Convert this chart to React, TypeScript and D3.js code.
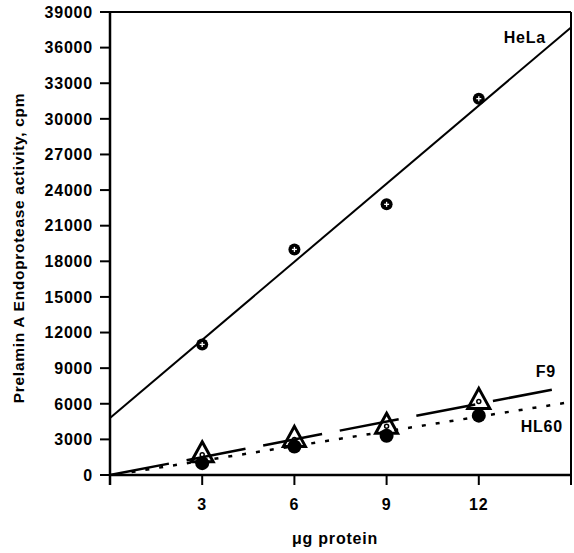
import React from 'react'
import * as d3 from 'd3'

const doses = [3, 6, 9, 12]
const hela = [11000, 19000, 22800, 31700]
const f9 = [1700, 3000, 4100, 6200]
const hl60 = [1000, 2400, 3300, 5000]
// fitted lines: [x0, y0, x1, y1]
const helaFit = [0, 4800, 15, 37700]
const f9Fit = [0, 0, 14.6, 7300]
const hl60Fit = [0.7, 250, 14.8, 6070]
const yTicks = [0, 3000, 6000, 9000, 12000, 15000, 18000, 21000, 24000, 27000, 30000, 33000, 36000, 39000]
const xTicks = [3, 6, 9, 12]

export default function App() {
  const left = 110, right = 571, top = 12, bottom = 475
  const x = d3.scaleLinear().domain([0, 15]).range([left, right])
  const y = d3.scaleLinear().domain([0, 39000]).range([bottom, top])
  const font = 'Arial, "Liberation Sans", sans-serif'

  const fitLine = (f: number[]) =>
    d3.line<number[]>().x(d => x(d[0])).y(d => y(d[1]))([[f[0], f[1]], [f[2], f[3]]]) || ''

  return (
    <svg width={574} height={553} style={{ position: 'absolute', left: 0, top: 0 }}
      fontFamily={font} fontWeight="bold" fontSize={16} letterSpacing={0.8}>
      {/* frame */}
      <line x1={left} x2={right} y1={top} y2={top} stroke="#000" strokeWidth={2} />
      <line x1={right} x2={right} y1={top} y2={bottom + 10} stroke="#000" strokeWidth={2} />
      <line x1={left} x2={left} y1={top} y2={bottom + 10} stroke="#000" strokeWidth={2.5} />
      <line x1={left} x2={right} y1={bottom} y2={bottom} stroke="#000" strokeWidth={2.5} />

      {yTicks.map(t => (
        <g key={t}>
          <line x1={left - 10} x2={left} y1={y(t)} y2={y(t)} stroke="#000" strokeWidth={2} />
          <text x={left - 17} y={y(t)} dy="0.36em" textAnchor="end">{t}</text>
        </g>
      ))}
      {xTicks.map(t => (
        <g key={t}>
          <line x1={x(t)} x2={x(t)} y1={bottom} y2={bottom + 10} stroke="#000" strokeWidth={2} />
          <text x={x(t)} y={bottom + 35} textAnchor="middle">{t}</text>
        </g>
      ))}

      <text x={335} y={544} textAnchor="middle" fontSize={16} letterSpacing={0.8}>μg protein</text>
      <text transform={`translate(24,${248}) rotate(-90)`} textAnchor="middle" fontSize={15.5} letterSpacing={0.7}>
        Prelamin A Endoprotease activity, cpm
      </text>

      {/* fitted lines */}
      <path d={fitLine(helaFit)} stroke="#000" strokeWidth={2} fill="none" />
      <path d={fitLine(f9Fit)} stroke="#000" strokeWidth={2.5} fill="none" strokeDasharray="60,18" />
      <path d={fitLine(hl60Fit)} stroke="#000" strokeWidth={2.5} fill="none" strokeDasharray="4,10" />

      {/* HL60 filled circles */}
      {doses.map((d, i) => (
        <circle key={'h' + i} cx={x(d)} cy={y(hl60[i])} r={7} fill="#000" />
      ))}
      {/* F9 open triangles */}
      {doses.map((d, i) => {
        const cx = x(d), cy = y(f9[i])
        return (
          <g key={'f' + i}>
            <path d={`M${cx},${cy - 13} L${cx + 11},${cy + 7} L${cx - 11},${cy + 7} Z`} fill="none" stroke="#000" strokeWidth={3} strokeLinejoin="miter" />
            <circle cx={cx} cy={cy} r={2} fill="none" stroke="#000" strokeWidth={1.5} />
          </g>
        )
      })}
      {/* HeLa circles */}
      {doses.map((d, i) => {
        const cx = x(d), cy = y(hela[i])
        return (
          <g key={'c' + i}>
            <circle cx={cx} cy={cy} r={6} fill="#000" />
            <line x1={cx - 2.5} x2={cx + 2.5} y1={cy} y2={cy} stroke="#fff" strokeWidth={1.3} />
            <line x1={cx} x2={cx} y1={cy - 2.5} y2={cy + 2.5} stroke="#fff" strokeWidth={1.3} />
          </g>
        )
      })}

      <text x={546} y={43} textAnchor="end">HeLa</text>
      <text x={556} y={377} textAnchor="end">F9</text>
      <text x={563} y={432} textAnchor="end">HL60</text>
    </svg>
  )
}
